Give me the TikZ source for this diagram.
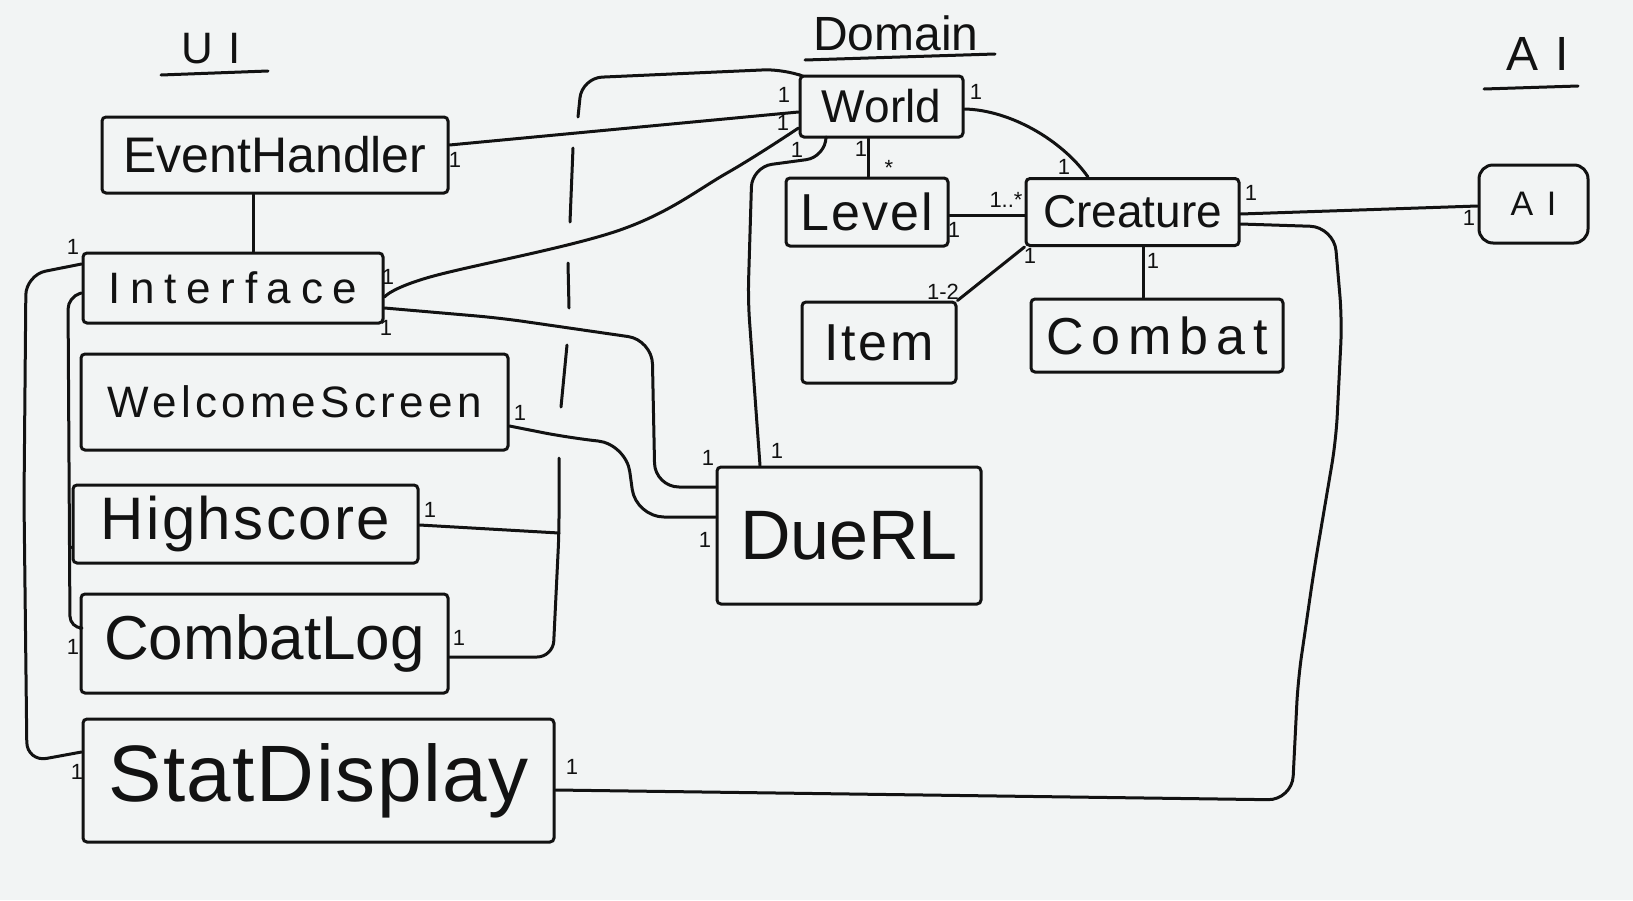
\documentclass[tikz,border=0pt]{standalone}
\usepackage{fontspec}
\setmainfont{Liberation Sans}
\usetikzlibrary{calc}
\definecolor{paper}{RGB}{242,244,244}
\definecolor{ink}{RGB}{18,18,18}
\newcommand{\ls}[3]{{\fontsize{#1}{#1}\selectfont\addfontfeature{LetterSpace=#2}#3}}
\begin{document}
\begin{tikzpicture}[x=0.5pt,y=-0.5pt,
  box/.style={draw=ink, line width=1.5pt, rounded corners=2pt, inner sep=0pt, text=ink},
  wire/.style={draw=ink, line width=1.5pt, line cap=round, line join=round},
  mult/.style={text=ink, font=\fontsize{11}{11}\selectfont, inner sep=0pt},
  hdr/.style={text=ink, inner sep=0pt}]
\fill[paper] (0,0) rectangle (1633,900);
\useasboundingbox (0,0) rectangle (1633,900);

% headers
\node[hdr] (hui) at (211,49) {\ls{22}{35}{UI}};
\draw[wire] (161,75) -- (268,71);
\node[hdr] (hdom) at (896,33) {\ls{24}{0}{Domain}};
\draw[wire] (805,60) -- (995,54);
\node[hdr] (hai) at (1538,54) {\ls{24}{35}{AI}};
\draw[wire] (1484,89) -- (1578,86);

% UI boxes
\node[box, minimum width=173pt, minimum height=38pt] (eh) at (275,155) {\ls{25}{0}{EventHandler}};
\node[box, minimum width=150pt, minimum height=35pt] (iface) at (233,288) {\ls{22}{22}{Interface}};
\node[box, minimum width=213.5pt, minimum height=48pt] (welcome) at (294.5,402) {\ls{22}{10}{WelcomeScreen}};
\node[box, minimum width=172.5pt, minimum height=39pt] (high) at (245.5,524) {\ls{30}{4}{Highscore}};
\node[box, minimum width=183.5pt, minimum height=49.5pt] (clog) at (264.5,643.5) {\ls{31}{0}{CombatLog}};
\node[box, minimum width=235.5pt, minimum height=61.5pt] (stat) at (318.5,780.5) {\ls{40}{2}{StatDisplay}};

% Domain boxes
\node[box, minimum width=81.5pt, minimum height=30.5pt] (world) at (881.5,106.5) {\ls{23}{0}{World}};
\node[box, minimum width=81pt, minimum height=34pt] (level) at (867,212) {\ls{26}{4}{Level}};
\node[box, minimum width=106.5pt, minimum height=33.5pt] (creature) at (1132.5,212) {\ls{23}{0}{Creature}};
\node[box, minimum width=77pt, minimum height=40.5pt] (item) at (879,342.5) {\ls{26}{5}{Item}};
\node[box, minimum width=126pt, minimum height=36.5pt] (combat) at (1157,335.5) {\ls{26}{15}{Combat}};
\node[box, minimum width=132pt, minimum height=68.5pt] (duel) at (849,535.5) {\ls{35}{0}{DueRL}};

% AI box
\node[box, rounded corners=7pt, minimum width=54.5pt, minimum height=39pt] (ai) at (1533.5,204) {\ls{17}{40}{AI}};

% connectors
\draw[wire] (253,0 |- eh.south) -- (253,0 |- iface.north);
\draw[wire] (eh.east |- 0,145) -- (world.west |- 0,112);
\coordinate (iw1) at (iface.east |- 0,297);
\coordinate (iw2) at (world.west |- 0,128);
\draw[wire] plot[smooth, tension=0.6] coordinates {(iw1) (430,277) (620,230) (727,173) (iw2)};
\draw[wire, rounded corners=12pt] (iface.east |- 0,308) -- (500,318) -- (652,340) -- (655,487) -- (duel.west |- 0,487);
\draw[wire, rounded corners=14pt] (welcome.east |- 0,426) -- (570,438) -- (626,444) -- (636,517) -- (duel.west |- 0,517);
\draw[wire, rounded corners=10pt] (826,0 |- world.south) -- (826,157) -- (752,167) -- (748,300) -- (760,0 |- duel.north);
\draw[wire] (868,0 |- world.south) -- (868,0 |- level.north);
\draw[wire] (level.east |- 0,215) -- (creature.west |- 0,215);
\draw[wire] (world.east |- 0,109) .. controls (1010,110) and (1062,140) .. (1088,0 |- creature.north);
\draw[wire] (creature.south west) -- (item.north east);
\draw[wire] (1143,0 |- creature.south) -- (1143,0 |- combat.north);
\draw[wire] (creature.east |- 0,214) -- (ai.west |- 0,206);
\draw[wire, rounded corners=12pt] (creature.east |- 0,224) -- (1334,227) -- (1342,320) -- (1336,440) -- (1314,570) -- (1298,680) -- (1292,800) -- (stat.east |- 0,790);
\draw[wire, rounded corners=10pt] (iface.west |- 0,264) -- (26,275) -- (24,500) -- (27,762) -- (stat.west |- 0,752);
\draw[wire, rounded corners=6pt] (iface.west |- 0,293) -- (68,297) -- (70,628) -- (clog.west |- 0,628);
\draw[wire] (70,547) -- (high.west |- 0,547);
% World to Highscore / CombatLog, broken where it crosses other lines
\draw[wire, rounded corners=10pt] (world.north west) -- (784,69) -- (582,78) -- (578,117);
\draw[wire] (573,148) -- (570,222);
\draw[wire] (568,263) -- (569,308);
\draw[wire] (567,345) -- (561,407);
\draw[wire, rounded corners=8pt] (559,458) -- (559,533) -- (553,657) -- (clog.east |- 0,657);
\draw[wire] (high.east |- 0,525) -- (559,533);

% multiplicities
\node[mult] (m1) at (455,160) {1};
\node[mult] (m2) at (784,95) {1};
\node[mult] (m3) at (783,123) {1};
\node[mult] (m4) at (797,150) {1};
\node[mult] (m5) at (976,92) {1};
\node[mult] (m6) at (1064,167) {1};
\node[mult] (m7) at (861,149) {1};
\node[mult] (m8) at (889,168) {*};
\node[mult] (m9) at (1006,200) {1..*};
\node[mult] (m10) at (954,230) {1};
\node[mult] (m11) at (1251,193) {1};
\node[mult] (m12) at (943,292) {1-2};
\node[mult] (m13) at (1030,256) {1};
\node[mult] (m14) at (1153,261) {1};
\node[mult] (m15) at (1469,218) {1};
\node[mult] (m16) at (520,413) {1};
\node[mult] (m17) at (430,510) {1};
\node[mult] (m18) at (459,638) {1};
\node[mult] (m19) at (572,767) {1};
\node[mult] (m20) at (77,772) {1};
\node[mult] (m21) at (73,647) {1};
\node[mult] (m22) at (73,247) {1};
\node[mult] (m23) at (388,277) {1};
\node[mult] (m24) at (386,328) {1};
\node[mult] (m25) at (708,458) {1};
\node[mult] (m26) at (705,540) {1};
\node[mult] (m27) at (777,451) {1};
\end{tikzpicture}
\end{document}
